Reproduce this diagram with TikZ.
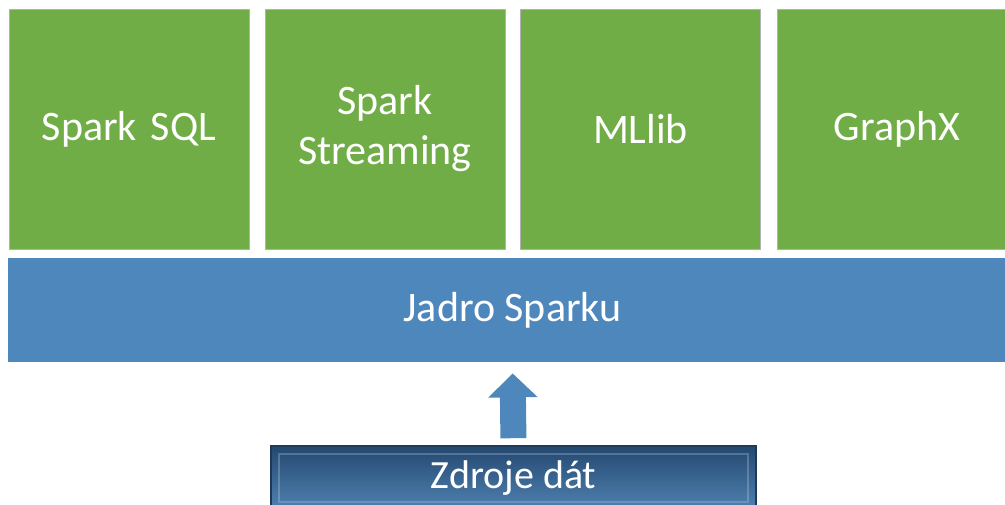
\documentclass[tikz,border=0pt]{standalone}
\usepackage{fontspec}
\setmainfont{Carlito}
\usetikzlibrary{calc,arrows.meta}
\definecolor{ModGreen}{RGB}{112,173,71}
\definecolor{CoreBlue}{RGB}{78,135,188}
\definecolor{SrcDark}{RGB}{36,72,112}
\definecolor{SrcLight}{RGB}{80,130,178}
\newcommand{\Size}{120pt}
\tikzset{Module/.style={
    inner sep=0pt,
    text width=\Size,
    minimum size=\Size,
    draw=black!30,
    line width=0.5pt,
    fill=ModGreen,
    text=white,
    align=center,
    font=\fontsize{21}{25}\selectfont,
    },
    Core/.style={
    inner sep=0pt,
    minimum width=504.5pt,
    minimum height=52pt,
    fill=CoreBlue,
    text=white,
    font=\fontsize{21}{25}\selectfont,
    },
    Source/.style={
    inner sep=0pt,
    minimum width=242.5pt,
    minimum height=32pt,
    draw=SrcDark!80!black,
    line width=0.8pt,
    top color=SrcDark,
    bottom color=SrcLight,
    text=white,
    font=\fontsize{20}{24}\selectfont,
    path picture={
        \draw[white!60!SrcLight, line width=1.2pt, opacity=0.3]
            ($(path picture bounding box.south west)+(4pt,4pt)$) rectangle
            ($(path picture bounding box.north east)-(4pt,4pt)$);
        },
    },
    Feed/.style={
    draw=CoreBlue,
    line width=13pt,
    -{Triangle[width=24pt,length=12pt]},
    shorten <=3.5pt,
    shorten >=5.5pt,
    }
}

\begin{document}
\begin{tikzpicture}[x=0.5pt,y=0.5pt]
    \useasboundingbox (0,0) rectangle (1005,-504);
    \clip (0,0) rectangle (1005,-504);
    % modules on top
    \node [Module] (sql) at (129,-129) {Spark SQL};
    \node [Module] (streaming) at (385,-129) {Spark\\Streaming};
    \node [Module] (mllib) at (640.5,-129) {MLlib};
    \node [Module] (graphx) at (897,-129) {GraphX};
    % core
    \node [Core] (core) at (512.5,-310) {Jadro Sparku};
    % data sources
    \node [Source] (src) at (513.5,-478) {Zdroje dát};
    \draw [Feed] (src.north) -- (core.south);
\end{tikzpicture}
\end{document}
